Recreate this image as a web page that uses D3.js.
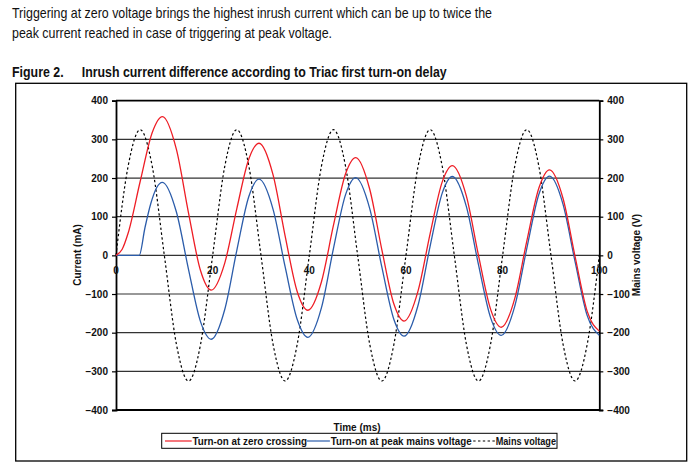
<!DOCTYPE html>
<html>
<head>
<meta charset="utf-8">
<script src="https://cdn.jsdelivr.net/npm/d3@7"></script>
<style>
  body { margin: 0; background: #fff; }
  svg { display: block; }
  .narrow { font-family: "Liberation Sans Narrow", "Arial Narrow", "Liberation Sans", Arial, sans-serif; fill: #111; }
  .lbl { font-family: "Liberation Sans", Arial, sans-serif; font-weight: bold; font-size: 10px; fill: #111; }
</style>
</head>
<body>
<div id="container"></div>
<script>

// values: [time (ms), value]
var zeroCrossing = [
  [0, 0], [1.25, 15], [2.5, 57], [5, 191], [7.5, 318], [9.6, 359], [12.5, 274], [15, 110], [17.5, -40],
  [19.7, -90], [22.5, -20], [25, 121], [27.5, 250], [29.6, 290], [32.5, 208], [35, 50], [37.5, -94],
  [39.7, -142], [42.5, -69], [45, 78], [47.5, 211], [49.6, 253], [52.5, 171], [55, 15], [57.5, -126],
  [59.6, -170], [62.5, -92], [65, 56], [67.5, 190], [69.6, 232], [72.5, 153], [75, 0], [77.5, -139],
  [79.7, -186], [82.5, -112], [85, 37], [87.5, 174], [89.7, 221], [92.5, 147], [95, -4], [97.5, -145],
  [100, -196]
]

var peakVoltage = [
  [0, 0], [4.8, 0], [6, 72], [7.2, 134], [8.4, 175], [9.6, 189], [12.5, 112], [15, -36], [17.5, -172],
  [19.7, -217], [22.5, -140], [25, 13], [27.5, 153], [29.6, 197], [32.5, 119], [35, -30], [37.5, -166],
  [39.7, -212], [42.5, -136], [45, 18], [47.5, 157], [49.6, 201], [52.5, 121], [55, -30], [57.5, -166],
  [59.6, -209], [62.5, -129], [65, 24], [67.5, 161], [69.6, 204], [72.5, 126], [75, -24], [77.5, -161],
  [79.7, -207], [82.5, -132], [85, 18], [87.5, 158], [89.7, 205], [92.5, 132], [95, -17], [97.5, -156],
  [100, -207]
]

var mainsVoltage = [
  [0, 0], [2.5, 230], [5, 325], [7.5, 230], [10, 0], [12.5, -230], [15, -325], [17.5, -230],
  [20, 0], [22.5, 230], [25, 325], [27.5, 230], [30, 0], [32.5, -230], [35, -325], [37.5, -230],
  [40, 0], [42.5, 230], [45, 325], [47.5, 230], [50, 0], [52.5, -230], [55, -325], [57.5, -230],
  [60, 0], [62.5, 230], [65, 325], [67.5, 230], [70, 0], [72.5, -230], [75, -325], [77.5, -230],
  [80, 0], [82.5, 230], [85, 325], [87.5, 230], [90, 0], [92.5, -230], [95, -325], [97.5, -230],
  [100, 0]
]

var yTicks = [400, 300, 200, 100, 0, -100, -200, -300, -400]
var xTicks = [0, 20, 40, 60, 80, 100]

var series = [
  { name: "Turn-on at zero crossing", values: zeroCrossing, color: "#ee1d25", dash: null, key: 26.7, len: 114.4 },
  { name: "Turn-on at peak mains voltage", values: peakVoltage, color: "#2b5caa", dash: null, key: 23, len: 141 },
  { name: "Mains voltage", values: mainsVoltage, color: "#000", dash: "2.4,2.4", key: 21.7, len: 60.3 }
]

var width = 699, height = 470

var svg = d3.select("#container").append("svg")
  .attr("width", width)
  .attr("height", height)

// text above the figure
function narrowText(x, y, size, weight, str, len) {
  svg.append("text")
    .attr("class", "narrow")
    .attr("x", x).attr("y", y)
    .attr("font-size", size)
    .attr("font-weight", weight)
    .attr("textLength", len)
    .attr("lengthAdjust", "spacingAndGlyphs")
    .text(str)
}
narrowText(12, 18.3, "15px", "normal", "Triggering at zero voltage brings the highest inrush current which can be up to twice the", 480)
narrowText(12, 38.3, "15px", "normal", "peak current reached in case of triggering at peak voltage.", 320)
narrowText(12, 77.3, "15px", "bold", "Figure 2.", 51.6)
narrowText(81.7, 77.3, "15px", "bold", "Inrush current difference according to Triac first turn-on delay", 365)

svg.append("rect")
  .attr("x", 15.7).attr("y", 83.3)
  .attr("width", 671).attr("height", 377.7)
  .attr("fill", "none")
  .attr("stroke", "#000")
  .attr("stroke-width", 1.3)

var x = d3.scaleLinear().domain([0, 100]).range([116, 599.3])
var y = d3.scaleLinear().domain([-400, 400]).range([410, 100.7])

// grid lines
svg.append("g").selectAll("line")
  .data(yTicks)
  .enter().append("line")
  .attr("x1", x(0)).attr("x2", x(100))
  .attr("y1", d => y(d)).attr("y2", d => y(d))
  .attr("stroke", d => Math.abs(d) == 400 ? "#000" : "#333")
  .attr("stroke-width", d => Math.abs(d) == 400 ? 1.8 : 1.2)

// left and right axes
var left = svg.append("g")
  .attr("transform", "translate(" + x(0) + ",0)")
  .call(d3.axisLeft(y).tickValues(yTicks).tickSize(4).tickPadding(4).tickFormat(d3.format("d")))
var right = svg.append("g")
  .attr("transform", "translate(" + x(100) + ",0)")
  .call(d3.axisRight(y).tickValues(yTicks).tickSize(4).tickPadding(4).tickFormat(d3.format("d")))

;[left, right].forEach(function (g) {
  g.attr("font-size", null).attr("font-family", null)
  g.select(".domain").attr("stroke", "#000").attr("stroke-width", 1.8)
  g.selectAll(".tick line").attr("stroke", "#000").attr("stroke-width", 1.2)
  g.selectAll(".tick text").attr("class", "lbl")
})

// x labels sit under the zero line
svg.append("g").selectAll("text")
  .data(xTicks)
  .enter().append("text")
  .attr("class", "lbl")
  .attr("x", d => x(d))
  .attr("y", y(0) + 19)
  .attr("text-anchor", "middle")
  .text(String)

svg.append("text")
  .attr("class", "lbl")
  .attr("text-anchor", "middle")
  .attr("transform", "translate(81,255) rotate(-90)")
  .text("Current (mA)")

svg.append("text")
  .attr("class", "lbl")
  .attr("text-anchor", "middle")
  .attr("transform", "translate(640,255) rotate(-90)")
  .text("Mains voltage (V)")

svg.append("text")
  .attr("class", "lbl")
  .attr("x", 357).attr("y", 430.5)
  .attr("text-anchor", "middle")
  .text("Time (ms)")

var line = d3.line()
  .x(d => x(d[0]))
  .y(d => y(d[1]))
  .curve(d3.curveMonotoneX)

// mains first so the currents sit on top
svg.append("g").selectAll("path")
  .data(series.slice().reverse())
  .enter().append("path")
  .attr("d", d => line(d.values))
  .attr("fill", "none")
  .attr("stroke", d => d.color)
  .attr("stroke-width", d => d.dash ? 1.2 : 1.3)
  .attr("stroke-dasharray", d => d.dash)

// legend
var legend = svg.append("g")
var box = legend.append("rect")
  .attr("fill", "#fff")
  .attr("stroke", "#000")
  .attr("stroke-width", 1)
var cx = 165
series.forEach(function (s, i) {
  legend.append("line")
    .attr("x1", cx).attr("x2", cx + s.key)
    .attr("y1", 441).attr("y2", 441)
    .attr("stroke", s.color)
    .attr("stroke-width", 1.2)
    .attr("stroke-dasharray", s.dash)
  legend.append("text")
    .attr("class", "lbl")
    .attr("font-size", "9.7px")
    .attr("x", cx + s.key + 0.8).attr("y", 444.8)
    .attr("textLength", s.len)
    .attr("lengthAdjust", "spacingAndGlyphs")
    .text(s.name)
  cx += s.key + 0.8 + s.len + (i == 1 ? 1.5 : 0)
})
box.attr("x", 161.7).attr("y", 433.3)
  .attr("width", cx + 1 - 161.7).attr("height", 15)

</script>
</body>
</html>
